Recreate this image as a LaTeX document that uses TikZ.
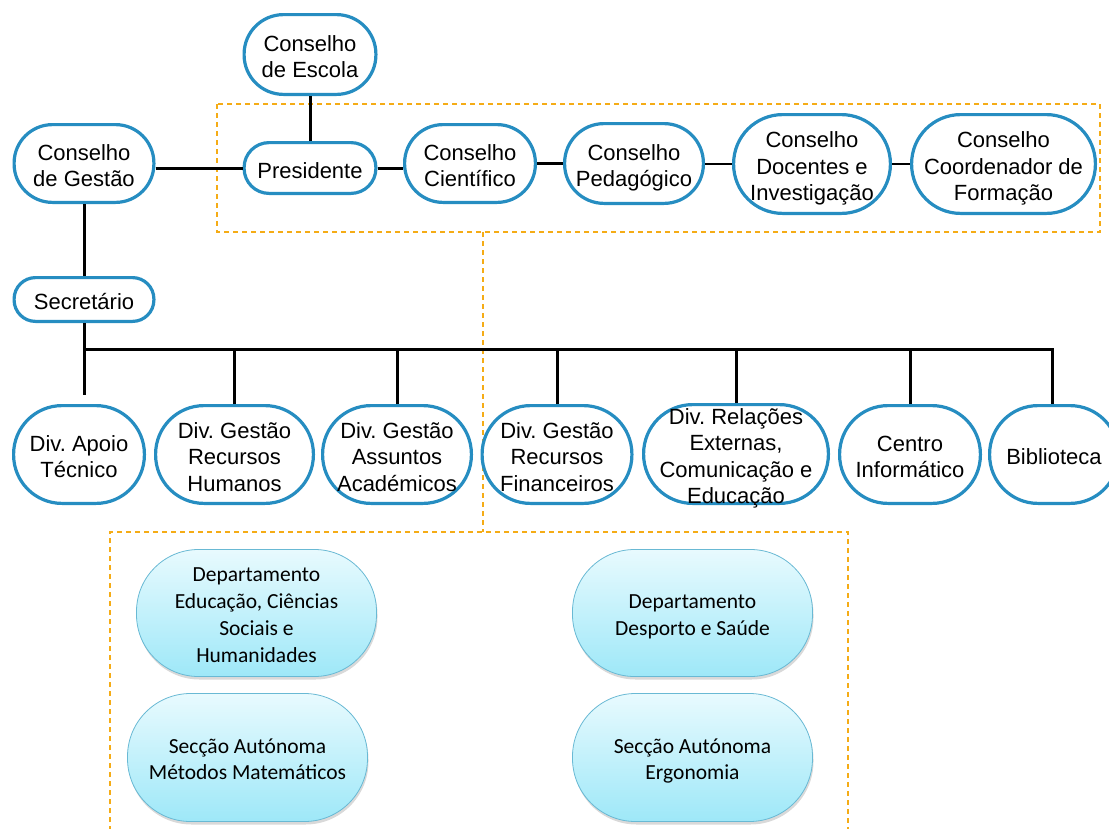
\documentclass[tikz,border=0pt]{standalone}
\usepackage{fontspec}
\setmainfont{Liberation Sans}
\newfontfamily\calib{Carlito}
\usetikzlibrary{shadows}
\frenchspacing
\definecolor{obblue}{RGB}{38,141,193}
\definecolor{dashor}{RGB}{245,172,22}
\definecolor{cytop}{RGB}{232,250,254}
\definecolor{cybot}{RGB}{158,232,248}
\definecolor{cyborder}{RGB}{105,185,212}
\newcommand\obt[1]{\begin{tabular}{@{}c@{}}\rule{0pt}{28pt}#1\rule[-6pt]{0pt}{0pt}\end{tabular}}
\newcommand\cyt[1]{\begin{tabular}{@{}c@{}}\rule{0pt}{26pt}#1\rule[-8pt]{0pt}{0pt}\end{tabular}}
\tikzset{
  obshape/.style={rectangle, draw=obblue, line width=3.2pt, fill=white, inner sep=0pt},
  ob/.style={obshape, font=\fontsize{22}{26.5}\selectfont},
  cy/.style={rectangle, draw=cyborder, line width=0.8pt, top color=cytop, bottom color=cybot,
    inner sep=0pt, font=\calib\fontsize{21.5}{26.7}\selectfont,
    minimum width=240pt, rounded corners=62pt,
    drop shadow={opacity=0.3, shadow xshift=1pt, shadow yshift=-3pt}},
  conn/.style={line width=3pt, black},
  thinconn/.style={line width=2pt, black},
  grp/.style={draw=dashor, line width=1.3pt, dash pattern=on 5pt off 4pt}
}
\begin{document}
\begin{tikzpicture}[x=1pt,y=-1pt]
\useasboundingbox (0,0) rectangle (1109,828);
% dashed groups
\coordinate (gA) at (217,104);
\coordinate (gB) at (1100,232);
\coordinate (gLink) at (483,232);
\coordinate (gC) at (483,532);
\draw[grp] (gA) rectangle (gB);
\draw[grp] (110,840) -- (110,532) -- (848,532) -- (848,840);
\draw[grp] (gLink) -- (gC);
% top nodes
\node[ob, minimum width=131.8pt, minimum height=79.8pt, rounded corners=39.4pt] (escola) at (310,54.5) {\obt{Conselho\\de Escola}};
\node[ob, minimum width=139.8pt, minimum height=77.8pt, rounded corners=38.4pt] (gestao) at (84,163.5) {\obt{Conselho\\de Gestão}};
\node[ob, minimum width=131.8pt, minimum height=50.8pt, rounded corners=25pt] (pres) at (310,168) {\obt{Presidente}};
\node[ob, minimum width=130.8pt, minimum height=77.8pt, rounded corners=38.4pt] (cient) at (470,163.5) {\obt{Conselho\\Científico}};
\node[ob, minimum width=138.8pt, minimum height=79.8pt, rounded corners=39.4pt] (ped) at (634,163.5) {\obt{Conselho\\Pedagógico}};
\node[ob, minimum width=156.8pt, minimum height=98.8pt, rounded corners=49pt] (doc) at (812,164) {\obt{Conselho\\Docentes e\\Investigação}};
\node[ob, minimum width=183.8pt, minimum height=98.8pt, rounded corners=49pt] (coord) at (1003.5,164) {\obt{Conselho\\Coordenador de\\Formação}};
\node[ob, minimum width=139.8pt, minimum height=43.8pt, rounded corners=21.4pt] (sec) at (84,299.5) {\obt{Secretário}};
% divisions
\node[ob, minimum width=130.8pt, minimum height=97.8pt, rounded corners=48.4pt] (apoio) at (79,454.5) {\obt{Div. Apoio\\Técnico}};
\node[ob, minimum width=157.8pt, minimum height=97.8pt, rounded corners=48.4pt] (rh) at (234.5,454.5) {\obt{Div. Gestão\\Recursos\\Humanos}};
\node[ob, minimum width=148.8pt, minimum height=97.8pt, rounded corners=48.4pt] (acad) at (397,454.5) {\obt{Div. Gestão\\Assuntos\\Académicos}};
\node[ob, minimum width=149.8pt, minimum height=97.8pt, rounded corners=48.4pt] (fin) at (557,454.5) {\obt{Div. Gestão\\Recursos\\Financeiros}};
\node[obshape, minimum width=184.8pt, minimum height=98.8pt, rounded corners=49pt,
  label={[inner sep=0pt, font=\fontsize{22}{26.5}\selectfont]center:\obt{Div. Relações\\Externas,\\Comunicação e\\Educação}}] (rel) at (736,454) {};
\node[ob, minimum width=140.8pt, minimum height=97.8pt, rounded corners=48.4pt] (centro) at (910,454.5) {\obt{Centro\\Informático}};
\node[ob, minimum width=128.8pt, minimum height=97.8pt, rounded corners=48.4pt] (bib) at (1054,454.5) {\obt{Biblioteca}};
% departments
\node[cy, minimum height=127pt] (dept1) at (256.5,613) {\cyt{Departamento\\Educação, Ciências\\Sociais e\\Humanidades}};
\node[cy, minimum height=128pt, rounded corners=63pt] (secc1) at (247.5,757.5) {\cyt{Secção Autónoma\\Métodos Matemáticos}};
\node[cy, minimum height=127pt] (dept2) at (692.5,613) {\cyt{Departamento\\Desporto e Saúde}};
\node[cy, minimum height=128pt, rounded corners=63pt] (secc2) at (692.5,757.5) {\cyt{Secção Autónoma\\Ergonomia}};
% connectors
\draw[conn] (escola.south) -- (pres.north);
\draw[conn] (gestao.east |- pres.west) -- (pres.west);
\draw[conn] (pres.east) -- (pres.east -| cient.west);
\draw[conn] (cient.east) -- (ped.west);
\draw[thinconn] (ped.east) -- (doc.west |- ped.east);
\draw[thinconn] (doc.east) -- (coord.west);
\draw[conn] (gestao.south) -- (sec.north);
\coordinate (busL) at (84,349);
\coordinate (busR) at (1052,349);
\coordinate (apoioTop) at ([yshift=9pt]apoio.north);
\draw[conn] (sec.south) -- (busL |- apoioTop);
\draw[conn] (busL) -- (busR) -- (busR |- bib.north);
\draw[conn] (rh.north) -- (rh.north |- busL);
\draw[conn] (acad.north) -- (acad.north |- busL);
\draw[conn] (fin.north) -- (fin.north |- busL);
\draw[conn] (rel.north) -- (rel.north |- busL);
\draw[conn] (centro.north) -- (centro.north |- busL);
\end{tikzpicture}
\end{document}
